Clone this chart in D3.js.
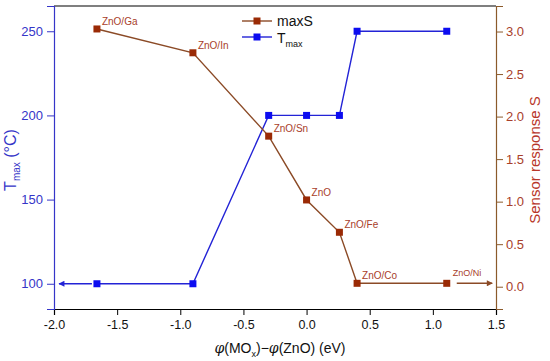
<!DOCTYPE html>
<html>
<head>
<meta charset="utf-8">
<script src="https://cdn.jsdelivr.net/npm/d3@7"></script>
<style>
  body { margin: 0; background: #fff; }
  svg { font-family: "Liberation Sans", Arial, sans-serif; }
</style>
</head>
<body>
<svg id="chart" width="550" height="361"></svg>
<script>
// work function difference (eV) for each sample
var xVals = [-1.66, -0.90, -0.30, 0.00, 0.26, 0.40, 1.11];
var sampleNames = ['ZnO/Ga', 'ZnO/In', 'ZnO/Sn', 'ZnO', 'ZnO/Fe', 'ZnO/Co', 'ZnO/Ni'];
var maxS = [3.03, 2.75, 1.77, 1.02, 0.64, 0.04, 0.04];
var tMax = [100, 100, 200, 200, 200, 250, 250];

var xTicks = [-2.0, -1.5, -1.0, -0.5, 0.0, 0.5, 1.0, 1.5];
var leftTicks = [100, 150, 200, 250];
var rightTicks = [0.0, 0.5, 1.0, 1.5, 2.0, 2.5, 3.0];

var blue = '#2323d6', blueAxis = '#3535c8', blueSq = '#0c0cf0';
var brown = '#8b4a26', brownSq = '#9a2a05', redTxt = '#a8402a', rightAxis = '#8b5a2b';

var svg = d3.select('#chart');
var m = {left: 54, right: 496, top: 6, bottom: 309};

var x = d3.scaleLinear().domain([-2, 1.5]).range([m.left, m.right]);
var yL = d3.scaleLinear().domain([85, 265]).range([m.bottom, m.top]);
var yR = d3.scaleLinear().domain([-0.262, 3.3]).range([m.bottom, m.top]);

var defs = svg.append('defs');
function marker(id, col) {
    defs.append('marker').attr('id', id)
        .attr('viewBox', '0 0 10 10').attr('refX', 9).attr('refY', 5)
        .attr('markerWidth', 8).attr('markerHeight', 6).attr('orient', 'auto')
        .attr('markerUnits', 'userSpaceOnUse')
        .append('path').attr('d', 'M0,0 L10,5 L0,10 Z').attr('fill', col);
}
marker('arrB', blue);
marker('arrR', brown);

// frame: top line
svg.append('line').attr('x1', m.left).attr('x2', m.right)
    .attr('y1', m.top).attr('y2', m.top).attr('stroke', '#000').attr('stroke-width', 1.2);

// bottom axis
var xAxis = svg.append('g').attr('transform', 'translate(0,' + m.bottom + ')');
xAxis.call(d3.axisBottom(x).tickValues(d3.range(-2, 1.51, 0.25)).tickSize(4).tickFormat(''));
xAxis.call(d3.axisBottom(x).tickValues(xTicks).tickSize(6).tickFormat(d3.format('.1f')));
xAxis.selectAll('.domain').attr('stroke', '#000').attr('stroke-width', 1.2);
xAxis.selectAll('line').attr('stroke', '#000');
xAxis.selectAll('text').attr('font-size', 12.5).attr('fill', '#111').attr('dy', '0.9em')
    .text(function (d) { return d3.format('.1f')(d).replace('−', '-'); });

// left axis
var lAxis = svg.append('g').attr('transform', 'translate(' + m.left + ',0)');
lAxis.call(d3.axisLeft(yL).tickValues(d3.range(100, 251, 25)).tickSize(4).tickFormat(''));
lAxis.call(d3.axisLeft(yL).tickValues(leftTicks).tickSize(7));
lAxis.select('.domain').attr('stroke', blueAxis).attr('stroke-width', 1.2);
lAxis.selectAll('line').attr('stroke', blueAxis);
lAxis.selectAll('text').attr('font-size', 13).attr('fill', blueAxis).attr('x', -11);

// right axis
var rAxis = svg.append('g').attr('transform', 'translate(' + m.right + ',0)');
rAxis.call(d3.axisRight(yR).tickValues(d3.range(0, 3.01, 0.25)).tickSize(4).tickFormat(''));
rAxis.call(d3.axisRight(yR).tickValues(rightTicks).tickSize(7).tickFormat(d3.format('.1f')));
rAxis.select('.domain').attr('stroke', rightAxis).attr('stroke-width', 1.2);
rAxis.selectAll('line').attr('stroke', rightAxis);
rAxis.selectAll('text').attr('font-size', 13).attr('fill', redTxt).attr('x', 10);

// axis titles
var lt = svg.append('text').attr('transform', 'translate(16,160) rotate(-90)')
    .attr('text-anchor', 'middle').attr('fill', blueAxis).attr('font-size', 16);
lt.append('tspan').text('T');
lt.append('tspan').attr('font-size', 10).attr('dy', 4).text('max');
lt.append('tspan').attr('dy', -4).text('  (°C)');

svg.append('text').attr('transform', 'translate(540,160) rotate(-90)')
    .attr('text-anchor', 'middle').attr('fill', '#b8372a').attr('font-size', 15)
    .text('Sensor response S');

var xt = svg.append('text').attr('x', 280).attr('y', 353).attr('text-anchor', 'middle')
    .attr('font-size', 14).attr('fill', '#111');
xt.append('tspan').attr('font-style', 'italic').attr('font-family', '"DejaVu Serif", serif').text('φ');
xt.append('tspan').text('(MO');
xt.append('tspan').attr('font-size', 9).attr('dy', 4).text('x');
xt.append('tspan').attr('dy', -4).text(')−');
xt.append('tspan').attr('font-style', 'italic').attr('font-family', '"DejaVu Serif", serif').text('φ');
xt.append('tspan').text('(ZnO) (eV)');

// arrows
svg.append('line').attr('x1', x(xVals[0]) - 5).attr('x2', x(-1.96))
    .attr('y1', yL(tMax[0])).attr('y2', yL(tMax[0]))
    .attr('stroke', blue).attr('stroke-width', 1.4).attr('marker-end', 'url(#arrB)');
svg.append('line').attr('x1', x(xVals[6]) + 10).attr('x2', x(1.47))
    .attr('y1', yR(maxS[6])).attr('y2', yR(maxS[6]))
    .attr('stroke', brown).attr('stroke-width', 1.4).attr('marker-end', 'url(#arrR)');

// Tmax series
var pts = xVals.map(function (v, i) { return {x: v, t: tMax[i], s: maxS[i], name: sampleNames[i]}; });
svg.append('path').datum(pts)
    .attr('d', d3.line().x(function (d) { return x(d.x); }).y(function (d) { return yL(d.t); }))
    .attr('fill', 'none').attr('stroke', blue).attr('stroke-width', 1.4);
svg.selectAll('.sqB').data(pts).enter().append('rect').attr('class', 'sqB')
    .attr('x', function (d) { return x(d.x) - 3.5; }).attr('y', function (d) { return yL(d.t) - 3.5; })
    .attr('width', 7).attr('height', 7).attr('fill', blueSq);

// maxS series
svg.append('path').datum(pts)
    .attr('d', d3.line().x(function (d) { return x(d.x); }).y(function (d) { return yR(d.s); }))
    .attr('fill', 'none').attr('stroke', brown).attr('stroke-width', 1.4);
svg.selectAll('.sqR').data(pts).enter().append('rect').attr('class', 'sqR')
    .attr('x', function (d) { return x(d.x) - 3.5; }).attr('y', function (d) { return yR(d.s) - 3.5; })
    .attr('width', 7).attr('height', 7).attr('fill', brownSq);

svg.selectAll('.lbl').data(pts).enter().append('text').attr('class', 'lbl')
    .attr('x', function (d) { return x(d.x) + (d.name === 'ZnO/Ni' ? 6 : 5); })
    .attr('y', function (d) { return yR(d.s) - (d.name === 'ZnO/Ni' ? 7 : 4); })
    .attr('font-size', function (d) { return d.name === 'ZnO/Ni' ? 9 : 10; })
    .attr('fill', redTxt).text(function (d) { return d.name; });

// legend
var lg = svg.append('g');
lg.append('line').attr('x1', 242).attr('x2', 272).attr('y1', 21).attr('y2', 21)
    .attr('stroke', brown).attr('stroke-width', 1.4);
lg.append('rect').attr('x', 253.5).attr('y', 17.5).attr('width', 7).attr('height', 7).attr('fill', brownSq);
lg.append('text').attr('x', 277).attr('y', 26).attr('font-size', 14).attr('fill', '#111').text('maxS');
lg.append('line').attr('x1', 242).attr('x2', 272).attr('y1', 37).attr('y2', 37)
    .attr('stroke', blue).attr('stroke-width', 1.4);
lg.append('rect').attr('x', 253.5).attr('y', 33.5).attr('width', 7).attr('height', 7).attr('fill', blueSq);
var lt2 = lg.append('text').attr('x', 277).attr('y', 43).attr('font-size', 14).attr('fill', '#111');
lt2.append('tspan').text('T');
lt2.append('tspan').attr('font-size', 9).attr('dy', 4).text('max');
</script>
</body>
</html>
